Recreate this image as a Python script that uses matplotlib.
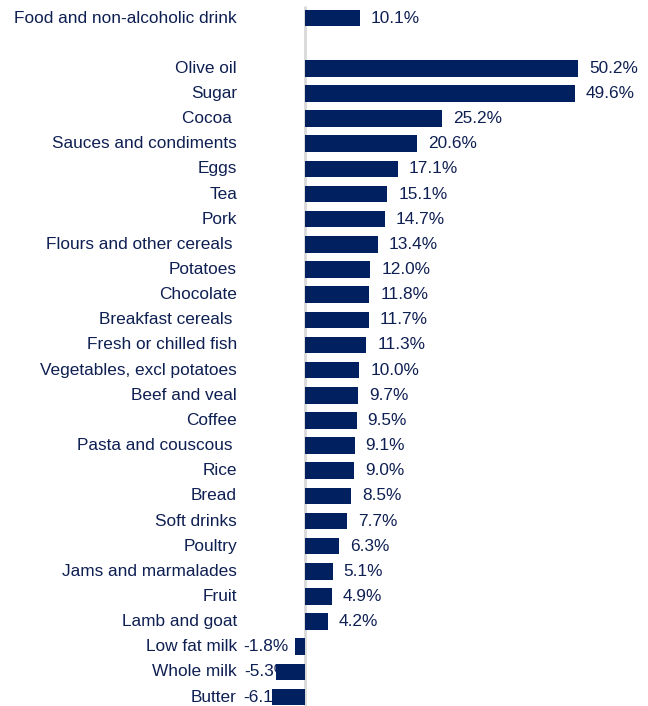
import matplotlib

matplotlib.use("Agg")
import matplotlib.pyplot as plt

plt.rcParams["font.family"] = ["Liberation Sans", "DejaVu Sans"]

# annual price change by food category (%), headline first then a gap row
headline = "Food and non-alcoholic drink"
headline_value = 10.1
categories = [
    "Olive oil", "Sugar", "Cocoa ", "Sauces and condiments", "Eggs", "Tea",
    "Pork", "Flours and other cereals ", "Potatoes", "Chocolate",
    "Breakfast cereals ", "Fresh or chilled fish", "Vegetables, excl potatoes",
    "Beef and veal", "Coffee", "Pasta and couscous ", "Rice", "Bread",
    "Soft drinks", "Poultry", "Jams and marmalades", "Fruit", "Lamb and goat",
    "Low fat milk", "Whole milk", "Butter",
]
values = [
    50.2, 49.6, 25.2, 20.6, 17.1, 15.1, 14.7, 13.4, 12.0, 11.8, 11.7, 11.3,
    10.0, 9.7, 9.5, 9.1, 9.0, 8.5, 7.7, 6.3, 5.1, 4.9, 4.2, -1.8, -5.3, -6.1,
]

NAVY = "#002060"
TEXT = "#0E1F52"
FS = 12.4
W, H, DPI = 648, 706, 100
PX_PER_UNIT = 5.44   # horizontal scale, pixels per percentage point
ZERO_PX = 305        # x position of the zero line
ROW_PX = 25.15       # vertical spacing between rows
TOP_ROW_PX = 18      # centre of first row

labels = [headline, ""] + categories
vals = [headline_value, None] + values
ypos = list(range(len(labels)))

fig = plt.figure(figsize=(W / DPI, H / DPI), dpi=DPI)
ax = fig.add_axes([0, 0, 1, 1])
ax.set_xlim(-ZERO_PX / PX_PER_UNIT, (W - ZERO_PX) / PX_PER_UNIT)
ax.set_ylim((H - TOP_ROW_PX) / ROW_PX, -TOP_ROW_PX / ROW_PX)
ax.axis("off")

def px_to_x(px):
    return (px - ZERO_PX) / PX_PER_UNIT

# zero line
ax.plot([0, 0], [-0.48, len(labels) + 1], color="#D9D9D9", lw=2, zorder=1,
        solid_capstyle="butt")

for y, lab, v in zip(ypos, labels, vals):
    if v is None:
        continue
    ax.barh(y, v, height=0.66, color=NAVY, zorder=3)
    ax.text(px_to_x(237), y, lab, ha="right", va="center", fontsize=FS,
            color=TEXT, zorder=2)
    txt = f"{v:.1f}%"
    if v >= 0:
        ax.text(v + 11 / PX_PER_UNIT, y, txt, ha="left", va="center",
                fontsize=FS, color=TEXT, zorder=2)
    else:
        # negative labels sit at a fixed spot left of zero; bars paint over them
        ax.text(px_to_x(289), y, txt, ha="right", va="center",
                fontsize=FS, color=TEXT, zorder=2)

fig.savefig("out.png", dpi=DPI)
